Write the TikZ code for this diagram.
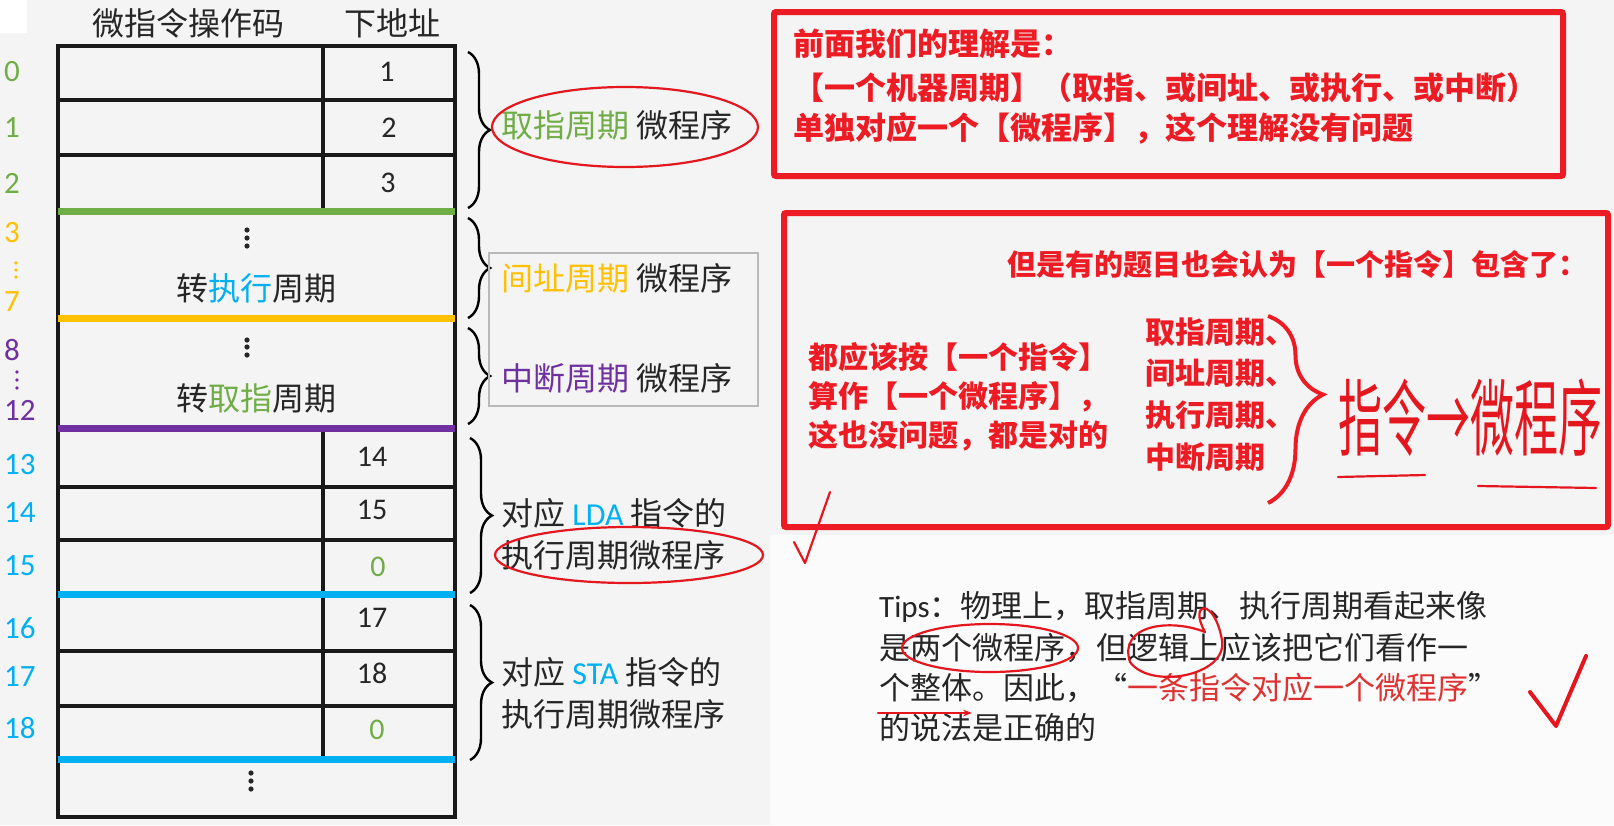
\documentclass[tikz,border=0pt]{standalone}
\usepackage{fontspec}
\setmainfont{Carlito}
\newfontfamily\cjk{Noto Sans CJK SC}
\usetikzlibrary{arrows.meta, positioning, decorations.pathreplacing}
\definecolor{cfetch}{RGB}{112,173,71}
\definecolor{cind}{RGB}{255,192,0}
\definecolor{cint}{RGB}{112,48,160}
\definecolor{cexe}{RGB}{0,176,240}
\definecolor{cnote}{RGB}{237,28,36}
\definecolor{cink}{RGB}{228,22,30}
\definecolor{cquote}{RGB}{222,50,50}
\definecolor{cbg}{RGB}{244,244,244}
\definecolor{ctext}{RGB}{38,38,38}
\tikzset{
    cellline/.style={line width=3.2pt, black!90},
    secline/.style={line width=7pt},
    rownum/.style={anchor=west, inner sep=0pt, font=\fontsize{31}{31}\selectfont},
    addr/.style={inner sep=0pt, text=ctext, font=\fontsize{30}{30}\selectfont},
    cjktext/.style={inner sep=0pt, text=ctext, font=\cjk\fontsize{32}{32}\selectfont},
    cyclabel/.style={anchor=west, inner sep=0pt, text=ctext, align=left, font=\cjk\fontsize{32}{42}\selectfont},
    cycbrace/.style={decorate, decoration={brace, amplitude=22pt}, line width=2.4pt},
    notebox/.style={draw=cnote, line width=6pt, rounded corners=2pt},
    notetext/.style={anchor=west, inner sep=0pt, text=cnote, font=\cjk\bfseries\fontsize{31}{31}\selectfont},
    tipstext/.style={anchor=west, inner sep=0pt, text=ctext, font=\cjk\fontsize{31}{31}\selectfont},
    inkline/.style={draw=cink, line width=2.2pt, line cap=round, line join=round}
}
\begin{document}
\begin{tikzpicture}[x=1pt, y=-1pt, >=stealth]
        \useasboundingbox (0,0) rectangle (1614,825);
        % Background
        \fill[cbg] (0,0) rectangle (1614,825);
        \fill[white] (0,0) rectangle (27,33);
        \fill[white!60!cbg] (770,535) rectangle (1614,825);

        % Column Headers
        \node[cjktext] (hdop) at (188,23) {微指令操作码};
        \node[cjktext] (hdnext) at (392,23) {下地址};

        % Table Frame and Rows
        \draw[cellline] (58,46) rectangle (455,817);
        \foreach \y in {100,155,487,540,651,706} {
            \draw[cellline] (58,\y) -- (455,\y);
        }
        \draw[cellline] (323,46) -- (323,211);
        \draw[cellline] (323,428) -- (323,759);
        \draw[secline, cfetch] (58,211) -- (455,211);
        \draw[secline, cind] (58,318) -- (455,318);
        \draw[secline, cint] (58,428) -- (455,428);
        \draw[secline, cexe] (58,594) -- (455,594);
        \draw[secline, cexe] (58,759) -- (455,759);

        % Row Addresses
        \foreach \n/\y/\c in {0/72/cfetch, 1/128/cfetch, 2/183/cfetch, 3/233/cind, 7/302/cind, 8/350/cint, 12/410/cint,
                              13/465/cexe, 14/513/cexe, 15/566/cexe, 16/628/cexe, 17/677/cexe, 18/728/cexe} {
            \node[rownum, text=\c] (row\n) at (4,\y) {\n};
        }
        \foreach \y in {263,270,277} { \fill[cind] (16,\y) circle (1.8pt); }
        \foreach \y in {372,380,388} { \fill[cint] (17,\y) circle (1.8pt); }

        % Next Addresses
        \foreach \v/\x/\y in {1/387/72, 2/389/128, 3/388/183, 14/372/457, 15/372/510, 17/372/618, 18/372/673} {
            \node[addr] (next\v) at (\x,\y) {\v};
        }
        \node[addr, text=cfetch] (nextzeroa) at (378,567) {0};
        \node[addr, text=cfetch] (nextzerob) at (377,730) {0};

        % Merged Cells
        \foreach \y in {230,238,246} { \fill[black!85] (247,\y) circle (2.6pt); }
        \node[cjktext] (toexe) at (256,288) {转{\color{cexe}执行}周期};
        \foreach \y in {340,347,355} { \fill[black!85] (247,\y) circle (2.6pt); }
        \node[cjktext] (tofetch) at (256,398) {转{\color{cfetch}取指}周期};
        \foreach \y in {773,781,789} { \fill[black!85] (251,\y) circle (2.6pt); }

        % Braces and Cycle Labels
        \draw[cycbrace] (468,52) -- (468,208);
        \draw[cycbrace] (468,218) -- (468,318);
        \draw[cycbrace] (468,328) -- (468,424);
        \draw[cycbrace] (470,438) -- (470,593);
        \draw[cycbrace] (470,605) -- (470,760);
        \node[cyclabel] (lblfetch) at (501,125) {{\color{cfetch}取指周期} 微程序};
        \node[cyclabel] (lblind) at (501,278) {{\color{cind}间址周期} 微程序};
        \node[cyclabel] (lblint) at (501,378) {{\color{cint}中断周期} 微程序};
        \node[cyclabel] (lbllda) at (501,534) {对应 {\rmfamily\color{cexe}LDA} 指令的\\执行周期微程序};
        \node[cyclabel] (lblsta) at (501,693) {对应 {\rmfamily\color{cexe}STA} 指令的\\执行周期微程序};
        \draw[gray!55, line width=2.5pt] (489,253) rectangle (758,406);
        \draw[inkline] (625,127) ellipse [x radius=133pt, y radius=40pt];
        \draw[inkline] (629,555) ellipse [x radius=134pt, y radius=28pt];
        \draw[inkline] (794,542) -- (805,563) -- (830,492);

        % Note Box 1
        \draw[notebox] (774,12) rectangle (1563,176);
        \node[notetext] (noteaa) at (793,44) {前面我们的理解是：};
        \node[notetext] (noteab) at (793,88) {【一个机器周期】（取指、或间址、或执行、或中断）};
        \node[notetext] (noteac) at (793,128) {单独对应一个【微程序】，这个理解没有问题};

        % Note Box 2
        \draw[notebox] (784,213) rectangle (1608,527);
        \node[notetext, anchor=east, font=\cjk\bfseries\fontsize{29}{29}\selectfont] (noteba) at (1588,264) {但是有的题目也会认为【一个指令】包含了：};
        \node[notetext, font=\cjk\bfseries\fontsize{30}{30}\selectfont] (notebb) at (808,357) {都应该按【一个指令】};
        \node[notetext, font=\cjk\bfseries\fontsize{30}{30}\selectfont] (notebc) at (808,397) {算作【一个微程序】，};
        \node[notetext, font=\cjk\bfseries\fontsize{30}{30}\selectfont] (notebd) at (808,436) {这也没问题，都是对的};
        \foreach \t/\y [count=\k] in {取指周期、/332, 间址周期、/373, 执行周期、/415, 中断周期/457} {
            \node[notetext, font=\cjk\bfseries\fontsize{30}{30}\selectfont] (cyc\k) at (1145,\y) {\t};
        }
        \draw[decorate, decoration={brace, amplitude=55pt, aspect=0.42}, cnote, line width=4pt] (1268,316) -- (1268,503);
        \node[text=cink, inner sep=0pt, yscale=1.9, font=\cjk\fontsize{44}{44}\selectfont] (handnote) at (1470,418) {指令→微程序};
        \draw[inkline] (1338,477) -- (1425,475);
        \draw[inkline] (1478,486) -- (1596,488);

        % Tips
        \node[tipstext] (tipa) at (879,607) {{\rmfamily Tips}：物理上，取指周期、执行周期看起来像};
        \node[tipstext] (tipb) at (879,648) {是两个微程序，但逻辑上应该把它们看作一};
        \node[tipstext] (tipc) at (879,688) {个整体。因此，“{\color{cquote}一条指令对应一个微程序}”};
        \node[tipstext] (tipd) at (879,728) {的说法是正确的};
        \draw[inkline] (990,648) ellipse [x radius=88pt, y radius=24pt];
        \draw[inkline] (1130,662) .. controls (1118,625) and (1170,618) .. (1205,632)
                       .. controls (1188,602) and (1214,596) .. (1222,640)
                       .. controls (1228,676) and (1150,690) .. (1130,662);
        \draw[inkline, -{Stealth[length=9pt]}] (878,713) -- (972,713);
        \draw[cink, line width=4pt, line cap=round, line join=round] (1530,692) -- (1556,726) -- (1586,656);
    \end{tikzpicture}
\end{document}
